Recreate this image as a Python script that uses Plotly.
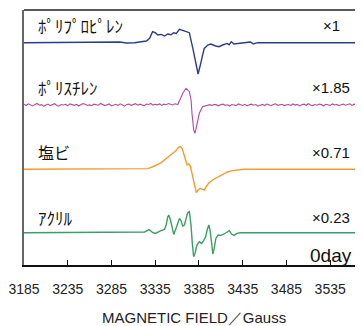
import numpy as np
import plotly.graph_objects as go

# ---- data (field in Gauss, intensity in arbitrary units) ----
pp_field = [3185, 3273.6, 3294.5, 3302, 3311.5, 3319, 3325, 3328.6, 3332, 3335, 3338, 3342,
            3345.6, 3349.4, 3353, 3356, 3359, 3362.7, 3366.4, 3370, 3374, 3378, 3381.6, 3384,
            3387, 3391, 3395, 3398.6, 3404, 3408, 3412, 3417, 3419.5, 3422, 3425, 3429,
            3436.5, 3444, 3447, 3452, 3572.5]
pp_int = [0, 0, 0.7, -0.3, 0, 1, 1.7, 4.3, 11, 10, 7.7, 8.3,
          6.7, 8.7, 8, 10, 9.3, 13.3, 12, 10.7, 10, -5.7, -20.7, -31.3,
          -20.7, -5.7, -2.3, -1.3, -3.3, -4, -2.3, -0.7, -2, 1, -1.3, -0.7,
          0, 0.7, -1.3, 0, 0]

ps_noise_left = [0.8, -0.5, 1.2, 0.3, -0.9, 0.6, 1.5, -0.2, 0.4, -1.1, 0.2, 0.9, -0.6, 0.1,
                 1.3, -0.4, -1.2, 0.5, 0.0, 0.7, -0.8, 1.1, 0.3, -0.3, 0.6, -1.0, 0.2, 1.4,
                 0.8, -0.5, 0.1, -0.7, 0.9, 0.4, -0.2, 1.6, 0.5, -0.6, 0.2, 1.0, -0.9, 0.3,
                 0.7, -0.4, 1.2, 0.0, -1.1, 0.6, 0.9, -0.3, 0.4, 1.3, -0.2, 0.8, 0.1, -0.6,
                 1.0, 0.5, 1.5, -0.1, 0.7, 0.2, 1.1, -0.4, 0.9, 0.3, 1.4, 0.6, 0.0, 1.2, 0.8]
ps_sig_field = [3360.8, 3366.5, 3370.2, 3374, 3376, 3377, 3379, 3380.5, 3382.7, 3385.4, 3389, 3395]
ps_sig_int = [0.5, 11.7, 16.7, 13.3, 5, -8.3, -25, -28.3, -18.3, -8.3, -1.7, 0]
ps_noise_right = [0.3, -0.5, 0.6, 0.1, -0.8, 0.4, 0.9, -0.3, 0.2, -1.0, 0.5, 0.0, -0.6, 1.1,
                  0.2, -0.4, 0.7, -0.9, 0.3, 0.8, -0.2, 0.5, -1.2, 0.1, 0.6, -0.5, 0.9, 0.2,
                  -0.7, 0.4, 1.2, -0.3, 0.0, 0.7, -0.8, 0.3, 0.5, -0.4, 1.0, -0.1, 0.6, -0.9,
                  0.2, 0.8, -0.3, 1.3, 0.1, -0.6, 0.5, -0.2, 0.9, 0.4, -1.0, 0.7, 0.2, -0.5,
                  1.1, 0.0, 0.6, -0.7, 0.3, 0.9, -0.2, 0.5, 1.2, -0.4, 0.8, 0.1, -0.6, 0.7, 0.3]

pvc_field = [3185, 3296.4, 3311.5, 3326.7, 3334.2, 3341.8, 3349.4, 3355, 3359, 3361.5, 3363.8,
             3365.7, 3367.6, 3369.5, 3371.4, 3373.3, 3375.2, 3377, 3379.7, 3382, 3384.2,
             3386.5, 3389.2, 3391, 3393.3, 3396, 3400.5, 3406.2, 3412, 3417.6, 3423.3,
             3429, 3436.5, 3572.5]
pvc_int = [0, 0, 0, 0.7, 3.3, 6.7, 12, 16, 18.7, 22, 22.7,
           21, 15.3, 8.7, 4.3, 5.3, 3.3, -4, -15.7, -23.3, -20.7,
           -19, -20, -20.7, -17.3, -14, -10.7, -8, -5, -2.7, -1.3,
           -0.7, 0, 0]

ac_field = [3185, 3307.7, 3315.3, 3319.1, 3322.9, 3325.9, 3327.8, 3329.7, 3332.3, 3335, 3338,
            3341.8, 3345.6, 3347.5, 3349.4, 3350.5, 3352.4, 3354.3, 3356.2, 3358.1, 3360.8,
            3362.7, 3364.5, 3366.4, 3368.3, 3370.2, 3372.1, 3374, 3375.9, 3377.4, 3378.9,
            3380.5, 3382.7, 3385.4, 3388, 3390.3, 3392.6, 3394.8, 3396.4, 3397.9, 3399.4,
            3400.9, 3402.4, 3404.3, 3407, 3410, 3413.8, 3417.6, 3419.8, 3422.1, 3425.2,
            3428.2, 3432.7, 3572.5]
ac_int = [0, 0, 0, 0.3, 0.7, 2, 3.3, 2, 0, -0.7, 0.7,
          2, 3.3, 7.7, 16, 17.7, 12.7, 4.3, -1.7, 2.7, 11,
          14.3, 12, 6.7, 7.7, 14.3, 20, 21, 7.7, -10.7, -24,
          -20.7, -12.3, -9, -10.7, -8, -4, 4.3, 7.7, 1, -14,
          -21.3, -15.7, -5.7, -2.3, -2.7, -1.3, 1, 2, -1.3, -2.7,
          -0.7, 0, 0]

names = ["ﾎﾟﾘﾌﾟﾛﾋﾟﾚﾝ", "ﾎﾟﾘｽﾁﾚﾝ", "塩ビ", "ｱｸﾘﾙ"]
factors = ["×1", "×1.85", "×0.71", "×0.23"]
tick_vals = [3185, 3235, 3285, 3335, 3385, 3435, 3485, 3535]
tick_text = ["3185", "3235", "3285", "3335", "3385", "3435", "3485", "3535"]

# ---- layout constants ----
offsets = [222.3, 160, 95.7, 32.3]
label_y = [240, 178, 113, 48]
colors = ["#2e3a8c", "#b04aa5", "#f59a30", "#3a9e66"]
widths = [1.4, 1.1, 1.4, 1.4]
name_sizes = [17, 17, 16, 17]

ps_field = list(3185 + 2.5 * np.arange(len(ps_noise_left))) + ps_sig_field + \
    list(3397.5 + 2.5 * np.arange(len(ps_noise_right)))
ps_int = ps_noise_left + ps_sig_int + ps_noise_right

series = [(pp_field, pp_int), (ps_field, ps_int), (pvc_field, pvc_int), (ac_field, ac_int)]

fig = go.Figure()
for i, (fx, fy) in enumerate(series):
    fig.add_trace(go.Scatter(x=fx, y=np.array(fy) + offsets[i], mode="lines",
                             line=dict(color=colors[i], width=widths[i]),
                             showlegend=False, hoverinfo="skip"))

ann = []
for i in range(4):
    ann.append(dict(x=0.035, xref="paper", y=label_y[i], yref="y", text=names[i],
                    showarrow=False, xanchor="left", yanchor="middle",
                    font=dict(family="Noto Sans CJK JP", size=name_sizes[i], color="#111")))
    ann.append(dict(x=0.906, xref="paper", y=label_y[i], yref="y", text=factors[i],
                    showarrow=False, xanchor="center", yanchor="middle",
                    font=dict(family="Liberation Sans, Arial", size=15, color="#111")))
ann.append(dict(x=0.906, xref="paper", y=10, yref="y", text="0day", showarrow=False,
                xanchor="center", yanchor="middle",
                font=dict(family="Liberation Sans, Arial", size=19, color="#111")))
ann.append(dict(x=0.5, xref="paper", y=-0.204, yref="paper", text="MAGNETIC FIELD／Gauss",
                showarrow=False, xanchor="center", yanchor="middle",
                font=dict(family="Liberation Sans, Arial", size=15, color="#222")))

fig.update_layout(
    width=355, height=318,
    margin=dict(l=14, r=0, t=2, b=61),
    paper_bgcolor="white", plot_bgcolor="white",
    annotations=ann,
    shapes=[dict(type="line", xref="paper", yref="paper", x0=0, x1=1, y0=1, y1=1,
                 line=dict(color="#222", width=1.5))],
    xaxis=dict(range=[3185, 3572.5], tickvals=tick_vals, ticktext=tick_text,
               ticks="inside", ticklen=5, tickwidth=1.2, tickcolor="#111",
               showline=True, linecolor="#111", linewidth=2, showgrid=False, zeroline=False,
               ticklabelstandoff=10, ticklabeloverflow="allow",
               tickfont=dict(family="Liberation Sans, Arial", size=14, color="#222")),
    yaxis=dict(range=[0, 255], showline=True, linecolor="#666", linewidth=1.5,
               showticklabels=False, ticks="", showgrid=False, zeroline=False),
)

fig.write_html("out.html")
